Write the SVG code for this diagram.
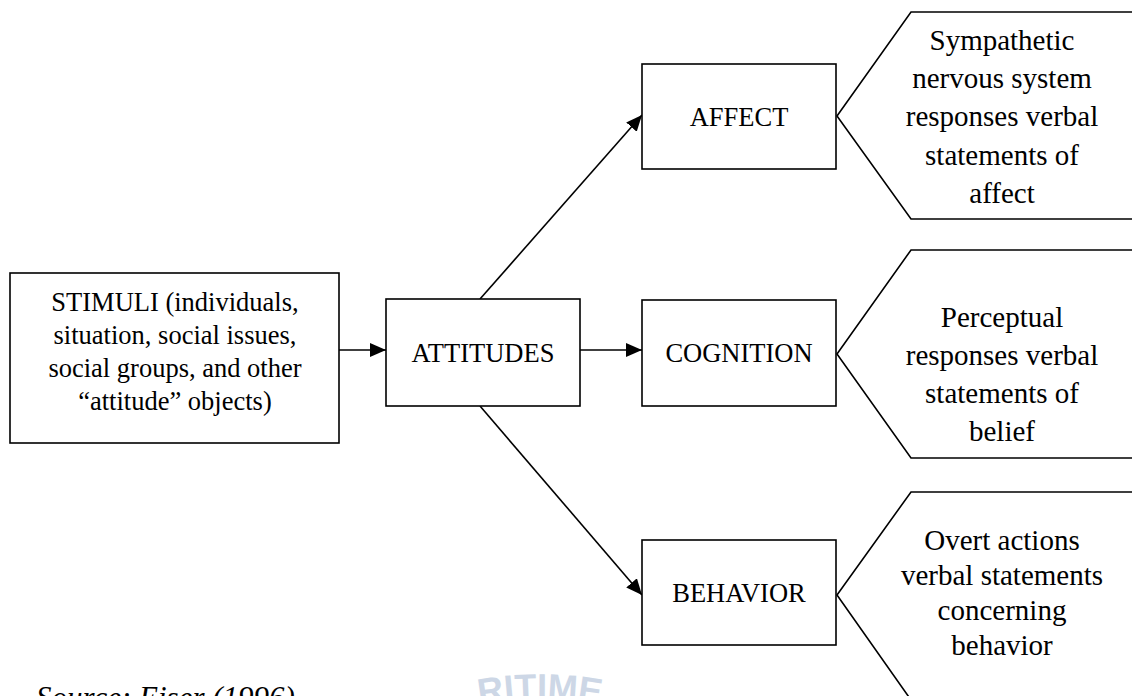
<svg xmlns="http://www.w3.org/2000/svg" width="1132" height="696" viewBox="0 0 1132 696">
  <style>
    .box { fill: #ffffff; stroke: #000000; stroke-width: 1.6; }
    .hex { fill: #ffffff; stroke: #000000; stroke-width: 1.6; }
    .conn { stroke: #000000; stroke-width: 1.6; fill: none; marker-end: url(#arrow); }
    .t { font-family: "Liberation Serif", "Times New Roman", serif; font-size: 26.5px; fill: #000000; text-anchor: middle; }
    .h { font-family: "Liberation Serif", "Times New Roman", serif; font-size: 29px; fill: #000000; text-anchor: middle; }
    .src { font-family: "Liberation Serif", "Times New Roman", serif; font-size: 31px; font-style: italic; fill: #000000; }
    .wm { font-family: "Liberation Sans", Arial, sans-serif; font-size: 36px; font-weight: bold; fill: #cdd7e6; text-anchor: middle; }
  </style>
  <defs>
    <marker id="arrow" markerUnits="userSpaceOnUse" markerWidth="17" markerHeight="15" refX="16" refY="7" orient="auto">
      <path d="M0,0 L16,7 L0,14 Z" fill="#000000"/>
    </marker>
    <path id="wmArc" d="M 205,1034 A 335 335 0 0 1 875,1034"/>
  </defs>

  <g id="watermark">
    <text class="wm"><textPath href="#wmArc" startOffset="50%">RITIME</textPath></text>
  </g>

  <g id="connectors">
    <line class="conn" x1="339" y1="350" x2="386" y2="350"/>
    <line class="conn" x1="580" y1="350" x2="642" y2="350"/>
    <line class="conn" x1="480" y1="299" x2="642" y2="115"/>
    <line class="conn" x1="480" y1="406" x2="642" y2="595"/>
  </g>

  <g id="stimuli">
    <rect class="box" x="10" y="273" width="329" height="170"/>
    <text class="t" x="175" y="311">STIMULI (individuals,</text>
    <text class="t" x="175" y="344">situation, social issues,</text>
    <text class="t" x="175" y="377">social groups, and other</text>
    <text class="t" x="175" y="410">“attitude” objects)</text>
  </g>

  <g id="attitudes">
    <rect class="box" x="386" y="299" width="194" height="107"/>
    <text class="t" x="483" y="362">ATTITUDES</text>
  </g>

  <g id="affect">
    <rect class="box" x="642" y="64" width="194" height="105"/>
    <text class="t" x="739" y="126">AFFECT</text>
  </g>

  <g id="cognition">
    <rect class="box" x="642" y="300" width="194" height="106"/>
    <text class="t" x="739" y="362">COGNITION</text>
  </g>

  <g id="behavior">
    <rect class="box" x="642" y="540" width="194" height="105"/>
    <text class="t" x="739" y="602">BEHAVIOR</text>
  </g>

  <g id="affect-response">
    <polygon class="hex" points="837,116 911,12 1140,12 1140,219 911,219"/>
    <text class="h" x="1002" y="50">Sympathetic</text>
    <text class="h" x="1002" y="88">nervous system</text>
    <text class="h" x="1002" y="126">responses verbal</text>
    <text class="h" x="1002" y="165">statements of</text>
    <text class="h" x="1002" y="203">affect</text>
  </g>

  <g id="cognition-response">
    <polygon class="hex" points="837,354 911,250 1140,250 1140,458 911,458"/>
    <text class="h" x="1002" y="327">Perceptual</text>
    <text class="h" x="1002" y="365">responses verbal</text>
    <text class="h" x="1002" y="403">statements of</text>
    <text class="h" x="1002" y="441">belief</text>
  </g>

  <g id="behavior-response">
    <polygon class="hex" points="837,595 911,492 1140,492 1140,700 911,700"/>
    <text class="h" x="1002" y="550">Overt actions</text>
    <text class="h" x="1002" y="585">verbal statements</text>
    <text class="h" x="1002" y="620">concerning</text>
    <text class="h" x="1002" y="655">behavior</text>
  </g>

  <g id="source">
    <text class="src" x="36" y="708">Source: Eiser (1996)</text>
  </g>
</svg>
